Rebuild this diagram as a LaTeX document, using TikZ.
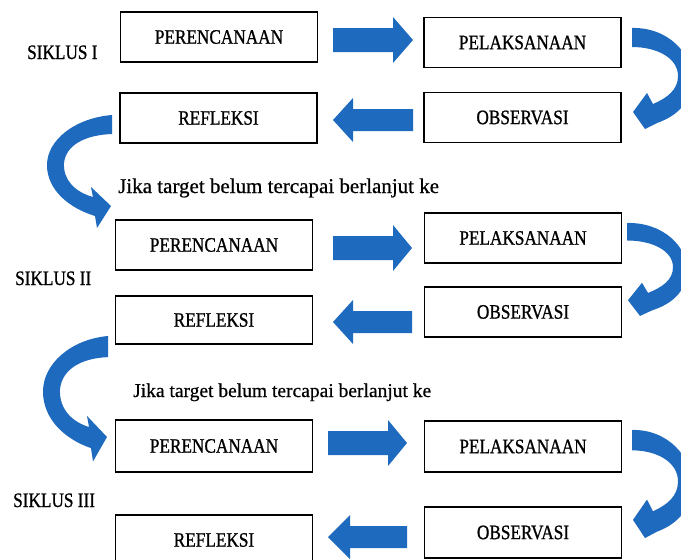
\documentclass[tikz,border=0pt]{standalone}
\usepackage{fontspec}
\setmainfont{Liberation Serif}[FakeStretch=0.84,FakeBold=0.9]
\newfontfamily\sentfont{Liberation Serif}[FakeBold=0.6]
\definecolor{arrblue}{RGB}{30,106,190}
\newcommand{\rblk}[4]{% x0 xback xtip yc
  \fill[arr] (#1,#4-12) -- (#2,#4-12) -- (#2,#4-23) -- (#3,#4) -- (#2,#4+23) -- (#2,#4+12) -- (#1,#4+12) -- cycle;}
\newcommand{\lblk}[4]{% xright xback xtip yc
  \fill[arr] (#1,#4-11) -- (#2,#4-11) -- (#2,#4-22) -- (#3,#4) -- (#2,#4+22) -- (#2,#4+11) -- (#1,#4+11) -- cycle;}
\newcommand{\rcurve}[3]{% x0 y0 yscale
  \begin{scope}[shift={(#1,#2)},yscale=#3]
  \fill[arr] (0,0) .. controls (35,-1) and (62,25) .. (60,55)
     .. controls (58,75) and (45,88) .. (25,95)
     -- (13,101) -- (1,84) -- (15,65) -- (21,76)
     .. controls (35,70) and (46,62) .. (46,48)
     .. controls (46,30) and (25,19) .. (0,19) -- cycle;
  \end{scope}}
\newcommand{\lcurve}[3]{% x0 y0 yscale
  \begin{scope}[shift={(#1,#2)},yscale=#3]
  \fill[arr] (0,0) .. controls (-37,3) and (-65,25) .. (-65,50)
     .. controls (-65,75) and (-43,93) .. (-17,101)
     -- (-15,113) -- (-1,91) -- (-21,72) -- (-19,82)
     .. controls (-37,77) and (-49,65) .. (-48,48)
     .. controls (-46,30) and (-27,20) .. (0,19) -- cycle;
  \end{scope}}
\begin{document}
\begin{tikzpicture}[x=1pt,y=-1pt,
  box/.style={draw=black,line width=1.3pt,minimum width=197pt,minimum height=50pt,
    inner sep=0pt,font=\fontsize{20.5}{22}\selectfont},
  lbl/.style={anchor=base west,inner sep=0pt,font=\fontsize{20.5}{22}\selectfont},
  sent/.style={anchor=base west,inner sep=0pt},
  arr/.style={fill=arrblue}]
\useasboundingbox (0,0) rectangle (681,560);
\fill[white] (0,0) rectangle (681,560);

% Siklus I
\node[lbl] (s1) at (27,59) {SIKLUS I};
\node[box] (p1) at (219,37) {PERENCANAAN};
\node[box] (l1) at (522.5,42.5) {PELAKSANAAN};
\node[box] (o1) at (522.5,117.5) {OBSERVASI};
\node[box] (r1) at (218.5,118) {REFLEKSI};
\rblk{333}{393}{413}{40}
\lblk{413}{353}{333}{120}
\rcurve{632}{28}{1}
\lcurve{112}{115}{1}

\node[sent,font=\sentfont\fontsize{21}{22}\selectfont] (t1) at (118,193) {Jika target belum tercapai berlanjut ke};

% Siklus II
\node[lbl] (s2) at (15,285) {SIKLUS II};
\node[box] (p2) at (214,245) {PERENCANAAN};
\node[box] (l2) at (523,238) {PELAKSANAAN};
\node[box] (o2) at (523,312) {OBSERVASI};
\node[box,minimum height=48pt] (r2) at (214,320) {REFLEKSI};
\rblk{333}{393}{412}{248}
\lblk{412}{353}{333}{322}
\rcurve{627}{223}{0.92}
\lcurve{108}{336}{1.11}

\node[sent,font=\sentfont\fontsize{19.5}{22}\selectfont] (t2) at (133,397) {Jika target belum tercapai berlanjut ke};

% Siklus III
\node[lbl] (s3) at (13,507) {SIKLUS III};
\node[box,minimum height=52pt] (p3) at (214,446) {PERENCANAAN};
\node[box,minimum height=51pt] (l3) at (523,446.5) {PELAKSANAAN};
\node[box,minimum height=51pt] (o3) at (523,532.5) {OBSERVASI};
\node[box] (r3) at (214,540) {REFLEKSI};
\rblk{328}{388}{407}{443}
\lblk{407}{350}{328}{537}
\rcurve{632}{430}{1.07}
\end{tikzpicture}
\end{document}
